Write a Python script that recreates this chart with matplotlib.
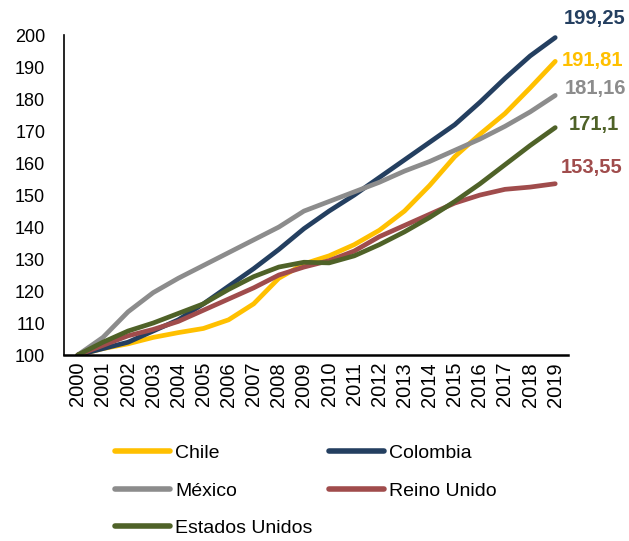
import matplotlib.pyplot as plt
import numpy as np

plt.rcParams['font.family'] = ['Liberation Sans', 'DejaVu Sans']

years = [str(y) for y in range(2000, 2020)]

chile = [100, 102, 103.5, 105.5, 107, 108.3, 111, 116, 124, 128.5,
         131, 134.5, 139, 145, 153, 162, 169, 175.5, 183.5, 191.81]
colombia = [100, 102, 104, 107.5, 111, 116, 121.5, 127, 133, 139.5,
            145, 150, 155.5, 161, 166.5, 172, 179, 186.5, 193.5, 199.25]
mexico = [100, 105.5, 113.5, 119.5, 124, 128, 132, 136, 140, 145,
          148, 151, 154, 157.5, 160.5, 164, 167.5, 171.5, 176, 181.16]
reino_unido = [100, 103, 106, 108, 110.5, 114, 117.5, 121, 125, 127.5,
               129.5, 132.5, 137, 140.5, 144, 147.5, 150, 151.8, 152.5, 153.55]
estados_unidos = [100, 104, 107.5, 110, 113, 116, 120.5, 124.5, 127.5, 129,
                  128.8, 131, 134.5, 138.5, 143, 148, 153.5, 159.5, 165.5, 171.1]

# name, values, colour, end label, label offset in pixels
series = [
    ("Chile", chile, "#FFC000", "191,81", (7, 1)),
    ("Colombia", colombia, "#243F60", "199,25", (9, 19)),
    ("México", mexico, "#8C8C8C", "181,16", (10, 7)),
    ("Reino Unido", reino_unido, "#A04C4C", "153,55", (6, 16)),
    ("Estados Unidos", estados_unidos, "#4F6228", "171,1", (14, 3)),
]

fig = plt.figure(figsize=(6.29, 5.41), dpi=100)
ax = fig.add_axes([0.1017, 0.3438, 0.801, 0.5912])

x = np.arange(len(years))
lines = {}
for name, vals, color, lab, off in series:
    ln, = ax.plot(x, vals, color=color, linewidth=3.4, label=name,
                  solid_capstyle='round', solid_joinstyle='round')
    lines[name] = ln
    ax.annotate(lab, xy=(x[-1], vals[-1]), xytext=off, textcoords='offset pixels',
                color=color, fontsize=14.5, fontweight='bold', ha='left', va='center')

ax.set_xlim(-0.55, 19.5)
ax.set_ylim(100, 200)
ax.set_yticks(np.arange(100, 201, 10))
ax.set_xticks(x)
ax.set_xticklabels(years, rotation=90, fontsize=14.5)
ax.tick_params(axis='both', length=0, colors='black')
ax.tick_params(axis='y', labelsize=13, pad=13.5)
ax.tick_params(axis='x', pad=5)
ax.spines['top'].set_visible(False)
ax.spines['right'].set_visible(False)
ax.spines['left'].set_linewidth(1.2)
ax.spines['bottom'].set_linewidth(1.8)

# legend fills column by column, so order handles to read row by row
order = ["Chile", "México", "Estados Unidos", "Colombia", "Reino Unido"]
leg = fig.legend([lines[n] for n in order], order, loc='upper left',
                 bbox_to_anchor=(0.167, 0.196), ncol=2, frameon=False,
                 fontsize=14, handlelength=2.85, handletextpad=0.25,
                 columnspacing=0.85, labelspacing=1.02, borderpad=0)
for h in leg.legend_handles:
    h.set_linewidth(4)

fig.savefig('out.png', dpi=100)
